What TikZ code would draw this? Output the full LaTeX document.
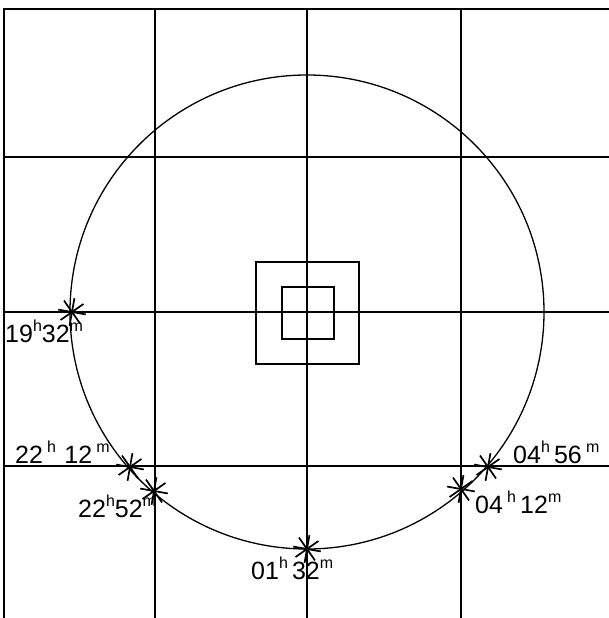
\documentclass[tikz,border=0pt]{standalone}
\usepackage{fontspec}
\setmainfont{Liberation Sans}
\usetikzlibrary{calc}
\newcommand\supx[1]{\raisebox{0.42em}{\fontsize{16}{16}\selectfont #1}}
\tikzset{
  gridline/.style={line width=2pt},
  orbit/.style={line width=1.3pt},
  boxline/.style={line width=2pt},
  lbl/.style={anchor=base west, inner sep=0pt, font=\fontsize{25}{25}\selectfont},
  astar/.pic={\foreach \a in {10,55,100,145}{\draw[line width=1.7pt] (\a:14) -- (\a+180:14);}}
}
\begin{document}
\begin{tikzpicture}[x=1pt,y=-1pt]
\useasboundingbox (0,0) rectangle (609,618);
% grid
\foreach \x in {4,155,307,461} \draw[gridline] (\x,9) -- (\x,618);
\foreach \y in {9,157,312,466} \draw[gridline] (3,\y) -- (609,\y);
% centre
\coordinate (c) at (307,312);
\draw[orbit] (c) circle (237);
\draw[boxline] ($(c)+(-51,-50)$) rectangle ($(c)+(52,52)$);
\draw[boxline] ($(c)+(-25,-25)$) rectangle ($(c)+(27,27)$);
% stars
\coordinate (s1) at (72,312);
\coordinate (s2) at (130,467);
\coordinate (s3) at (154,491);
\coordinate (s4) at (307,549);
\coordinate (s5) at (461,489);
\coordinate (s6) at (488,467);
\foreach \s in {s1,s2,s3,s4,s5,s6} \pic at (\s) {astar};
% labels
\node[lbl] (l1) at (5,342) {19\supx{h}32\supx{m}};
\node[lbl] (l2) at (15,463) {22\,\supx{h}\,\,12\,\supx{m}};
\node[lbl] (l3) at (78,517) {22\supx{h}52\supx{m}};
\node[lbl] (l4) at (513,463) {04\supx{h}\,56\,\supx{m}};
\node[lbl] (l5) at (475,513) {04\,\supx{h}\,12\supx{m}};
\node[lbl] (l6) at (251,579) {01\supx{h}\,32\supx{m}};
\end{tikzpicture}
\end{document}
